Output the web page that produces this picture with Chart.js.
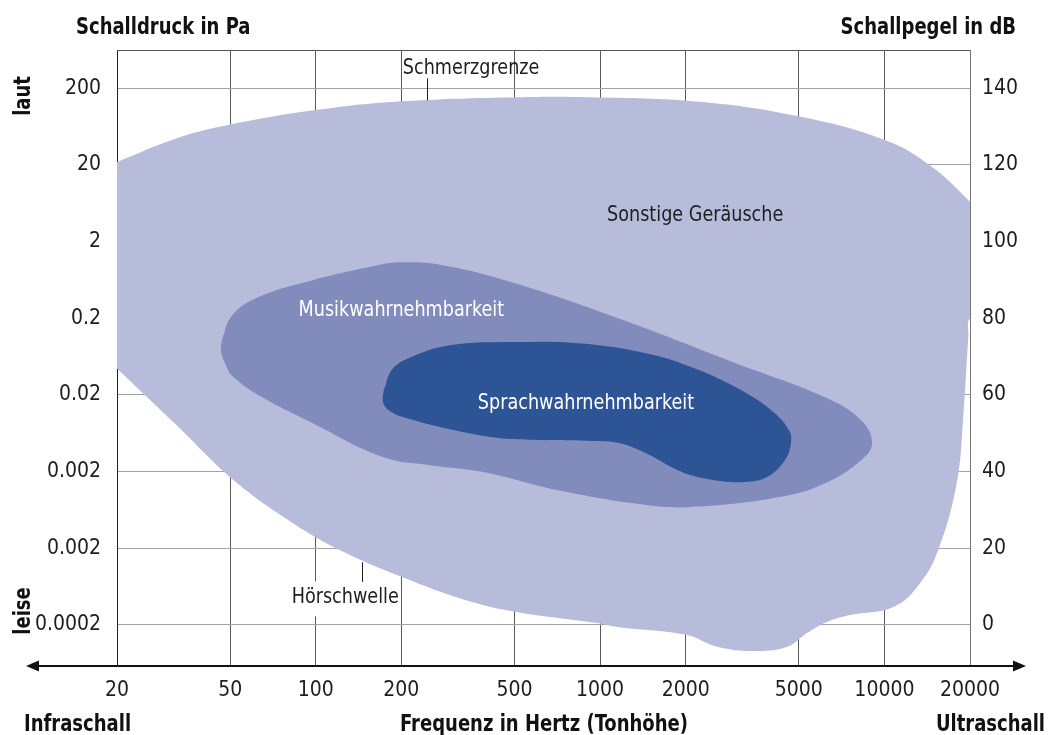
<!DOCTYPE html>
<html><head><meta charset="utf-8">
<script src="https://cdn.jsdelivr.net/npm/chart.js@4.4.1/dist/chart.umd.min.js"></script>
<style>html,body{margin:0;padding:0;background:#fff;}#wrap{width:1048px;height:735px;}</style>
</head><body><div id="wrap"><canvas id="c" width="1048" height="735"></canvas></div>
<script>
// ---- data (Hz on x, dB on y) ----
const freqTicks = [20, 50, 100, 200, 500, 1000, 2000, 5000, 10000, 20000];
const dbTicks = [0, 20, 40, 60, 80, 100, 120, 140];
const paLabels = ['0.0002', '0.002', '0.002', '0.02', '0.2', '2', '20', '200'];

// outline of "Sonstige Geräusche" (runs slightly past the plot edges, clipped there)
const sonstigeHz = [17, 20, 32.5, 52.1, 102, 200, 509, 922, 2246, 5130, 10130, 14470, 20000, 23500, 23500, 20000, 19730, 18900, 17960, 15470, 13350, 10750, 7570, 6280, 5340, 4550, 3450, 2580, 2020, 1150, 976, 509, 340, 200, 125, 83.4, 52.1, 32.4, 20, 17];
const sonstigeDb = [118.8, 120.8, 127.0, 130.8, 134.4, 136.6, 137.7, 137.7, 136.5, 132.5, 126.4, 119.9, 110.4, 104, 84, 80.3, 75.1, 53.4, 37.0, 19.6, 10.9, 4.7, 2.6, 0.8, -2.1, -5.7, -6.8, -5.7, -2.6, -0.5, 0.5, 3.4, 6.4, 12.6, 19.1, 26.5, 37.4, 52.1, 66.9, 71.9];

const musikHz = [46.4, 50.3, 62.6, 97, 167, 199, 274, 490, 1210, 3000, 6180, 8280, 9050, 8280, 6180, 4290, 2090, 1450, 706, 388, 252, 172, 95.5, 62.8, 51.3, 48.6];
const musikDb = [72.5, 80.3, 85.5, 89.9, 93.9, 94.6, 94.0, 89.4, 79.5, 68.3, 59.4, 53.4, 47.4, 43.0, 37.0, 33.4, 30.8, 31.3, 35.2, 39.9, 41.7, 43.8, 53.0, 60.0, 64.7, 67.3];

const sprachHz = [172, 185, 218, 297, 490, 843, 1450, 2090, 3000, 3990, 4620, 4690, 4470, 3860, 3230, 2500, 1940, 1450, 1175, 944, 490, 343, 222, 180];
const sprachDb = [59.4, 66.5, 70.0, 73.0, 73.8, 73.5, 70.9, 67.3, 62.0, 56.1, 50.8, 47.4, 43.0, 38.6, 37.3, 37.8, 39.9, 44.8, 47.4, 48.0, 48.5, 50.1, 53.4, 56.1];

// ---- styling ----
const FONT = "'Liberation Sans Narrow', 'DejaVu Sans Condensed', 'Arial Narrow', sans-serif";
const colLight = '#b8bcdb', colMid = '#818bbc', colDark = '#2d5494';

function pts(hz, db, close) {
  const a = hz.map((x, i) => ({x: x, y: db[i]}));
  if (close) { a.push(a[0], a[1]); }
  return a;
}
function shape(label, data, color) {
  return {label, data, backgroundColor: color, borderColor: 'rgba(0,0,0,0)', borderWidth: 0,
    fill: 'shape', tension: 0.4, capBezierPoints: false, pointRadius: 0, pointHoverRadius: 0};
}

const annotations = [
  {text: 'Sonstige Geräusche', hz: 2160, db: 106.9, color: '#1e1e1e'},
  {text: 'Musikwahrnehmbarkeit', hz: 200, db: 82.1, color: '#ffffff'},
  {text: 'Sprachwahrnehmbarkeit', hz: 892, db: 57.9, color: '#ffffff'},
  {text: 'Schmerzgrenze', hz: 352, db: 145.2, color: '#1e1e1e', leader: {hz: 246, from: 142.6, to: 136.9}},
  {text: 'Hörschwelle', hz: 127, db: 7.2, color: '#1e1e1e', box: true, leader: {hz: 146, from: 16.4, to: 11.2}}
];

const extras = {
  id: 'extras',
  afterDraw(chart) {
    const ctx = chart.ctx, a = chart.chartArea;
    const xs = chart.scales.x, ys = chart.scales.y;
    const SX = 0.89, SXB = 0.87;
    const txt = (t, x, y, sx) => { ctx.save(); ctx.translate(x, y); ctx.scale(sx, 1); ctx.fillText(t, 0, 0); ctx.restore(); };
    ctx.save();
    // top border
    ctx.strokeStyle = '#555'; ctx.lineWidth = 1;
    ctx.beginPath(); ctx.moveTo(a.left, a.top + 0.5); ctx.lineTo(a.right, a.top + 0.5); ctx.stroke();
    // x axis with arrows
    const yA = a.bottom;
    ctx.strokeStyle = '#111'; ctx.fillStyle = '#111'; ctx.lineWidth = 2;
    ctx.beginPath(); ctx.moveTo(34, yA); ctx.lineTo(1018, yA); ctx.stroke();
    ctx.beginPath(); ctx.moveTo(26, yA); ctx.lineTo(39, yA - 5.5); ctx.lineTo(39, yA + 5.5); ctx.closePath(); ctx.fill();
    ctx.beginPath(); ctx.moveTo(1026, yA); ctx.lineTo(1013, yA - 5.5); ctx.lineTo(1013, yA + 5.5); ctx.closePath(); ctx.fill();
    // annotations
    ctx.font = '22px ' + FONT;
    ctx.textAlign = 'center'; ctx.textBaseline = 'middle';
    annotations.forEach(an => {
      const px = xs.getPixelForValue(an.hz), py = ys.getPixelForValue(an.db);
      if (an.box) {
        const w = ctx.measureText(an.text).width * SX;
        ctx.fillStyle = '#fff';
        ctx.fillRect(px - w / 2 - 2, py - 16, w + 4, 35);
      }
      ctx.fillStyle = an.color;
      txt(an.text, px, py, SX);
      if (an.leader) {
        const lx = Math.round(xs.getPixelForValue(an.leader.hz)) + 0.5;
        ctx.strokeStyle = '#1e1e1e'; ctx.lineWidth = 1;
        ctx.beginPath();
        ctx.moveTo(lx, ys.getPixelForValue(an.leader.from));
        ctx.lineTo(lx, ys.getPixelForValue(an.leader.to));
        ctx.stroke();
      }
    });
    // titles
    ctx.fillStyle = '#111';
    ctx.font = 'bold 23px ' + FONT;
    ctx.textBaseline = 'alphabetic';
    ctx.textAlign = 'left';
    txt('Schalldruck in Pa', 76, 34, SXB);
    txt('Infraschall', 24, 731, SXB);
    ctx.textAlign = 'right';
    txt('Schallpegel in dB', 1016, 34, SXB);
    txt('Ultraschall', 1045, 731, SXB);
    ctx.textAlign = 'center';
    txt('Frequenz in Hertz (Tonhöhe)', 544, 731, SXB);
    const rot = (t, x, y) => { ctx.save(); ctx.translate(x, y); ctx.rotate(-Math.PI / 2); ctx.scale(SXB, 1); ctx.fillText(t, 0, 0); ctx.restore(); };
    rot('laut', 30, 96);
    rot('leise', 30, 611);
    ctx.restore();
  }
};

const tickFont = {family: FONT, size: 21};
new Chart(document.getElementById('c'), {
  type: 'line',
  data: {
    datasets: [
      shape('Sprachwahrnehmbarkeit', pts(sprachHz, sprachDb, true), colDark),
      shape('Musikwahrnehmbarkeit', pts(musikHz, musikDb, true), colMid),
      shape('Sonstige Geräusche', pts(sonstigeHz, sonstigeDb, false), colLight)
    ]
  },
  options: {
    responsive: false,
    animation: false,
    layout: {padding: {top: 50, left: 0, right: 0, bottom: 0}},
    plugins: {legend: {display: false}, tooltip: {enabled: false}},
    events: [],
    scales: {
      x: {
        type: 'logarithmic', min: 20, max: 20000,
        afterBuildTicks: s => { s.ticks = freqTicks.map(v => ({value: v})); },
        afterFit: s => { s.height = 69; },
        grid: {color: '#5a5a5a', lineWidth: 1, drawTicks: false},
        border: {display: false},
        ticks: {font: tickFont, color: '#1e1e1e', padding: 12, autoSkip: false, maxRotation: 0,
          callback: v => String(v)}
      },
      y: {
        position: 'left', min: -10.7, max: 150,
        afterBuildTicks: s => { s.ticks = dbTicks.map(v => ({value: v})); },
        afterFit: s => { s.width = 117; },
        grid: {color: '#a3a3a3', lineWidth: 1, drawTicks: false},
        border: {display: true, color: '#222', width: 1},
        ticks: {font: tickFont, color: '#1e1e1e', padding: 16,
          callback: v => paLabels[dbTicks.indexOf(v)]}
      },
      y2: {
        position: 'right', min: -10.7, max: 150,
        afterBuildTicks: s => { s.ticks = dbTicks.map(v => ({value: v})); },
        afterFit: s => { s.width = 78; },
        grid: {display: false, drawTicks: false},
        border: {display: true, color: '#777', width: 1},
        ticks: {font: tickFont, color: '#1e1e1e', padding: 12, callback: v => String(v)}
      }
    }
  },
  plugins: [extras]
});
</script>
</body></html>
